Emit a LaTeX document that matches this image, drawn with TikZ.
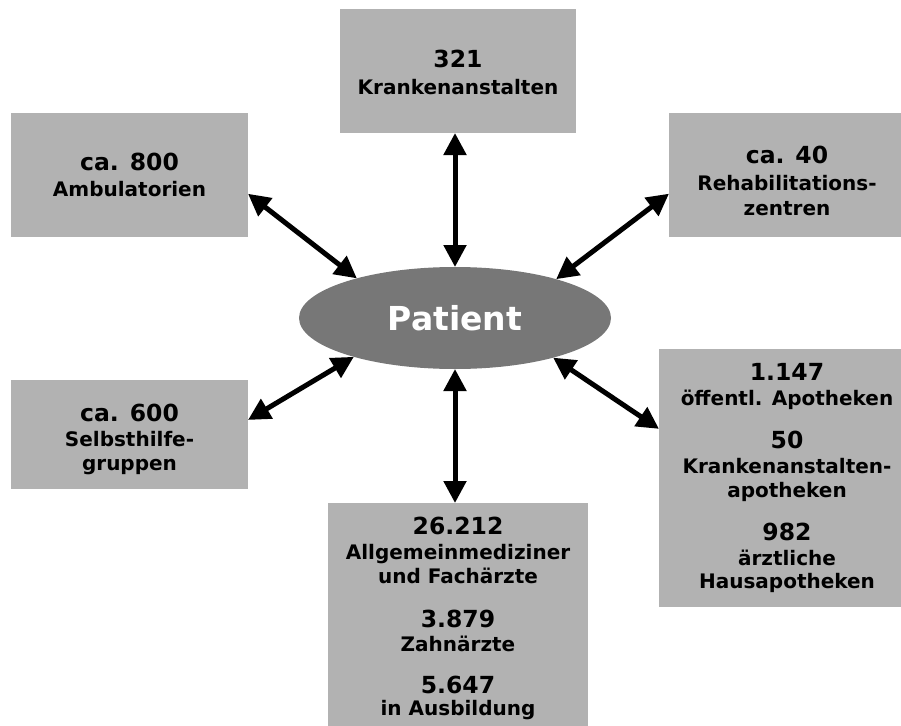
\documentclass[tikz,border=0pt]{standalone}
\usepackage{fontspec}
\setmainfont{DejaVu Sans}
\usetikzlibrary{arrows.meta,shapes.geometric}
\definecolor{boxgray}{RGB}{178,178,178}
\definecolor{patgray}{RGB}{119,119,119}
\begin{document}
\begin{tikzpicture}[x=1pt,y=-1pt,
  box/.style={rectangle, fill=boxgray, draw=none, inner sep=0pt, outer sep=0pt},
  num/.style={anchor=base, inner sep=0pt, outer sep=0pt, font=\bfseries\fontsize{23.5}{28}\selectfont},
  lbl/.style={anchor=base, inner sep=0pt, outer sep=0pt, font=\bfseries\fontsize{20}{24}\selectfont},
  link/.style={line width=5pt, {Triangle[length=22pt,width=22pt]}-{Triangle[length=22pt,width=22pt]}}]
\useasboundingbox (0,0) rectangle (901,725);
% boxes
\node[box, minimum width=236pt, minimum height=124pt] (top) at (458,71) {};
\node[box, minimum width=237pt, minimum height=124pt] (amb) at (129.5,175) {};
\node[box, minimum width=236pt, minimum height=124pt] (reh) at (787,175) {};
\node[box, minimum width=237pt, minimum height=109pt] (sel) at (129.5,434.5) {};
\node[box, minimum width=256pt, minimum height=258pt] (pha) at (787,478) {};
\node[box, minimum width=260pt, minimum height=230pt] (bot) at (458,618) {};
% patient
\node[ellipse, fill=patgray, minimum width=312pt, minimum height=102pt, inner sep=0pt, outer sep=0pt,
  text=white, font=\bfseries\fontsize{33}{40}\selectfont] (pat) at (455,318) {Patient};
% texts
\node[num] (t1) at (458,67) {321};
\node[lbl] (t2) at (458,94) {Krankenanstalten};
\node[num] (a1) at (129.5,170) {ca. 800};
\node[lbl] (a2) at (129.5,196.5) {Ambulatorien};
\node[num] (r1) at (787,163) {ca. 40};
\node[lbl] (r2) at (787,190) {Rehabilitations-};
\node[lbl] (r3) at (787,215) {zentren};
\node[num] (s1) at (129.5,421.5) {ca. 600};
\node[lbl] (s2) at (129.5,446.5) {Selbsthilfe-};
\node[lbl] (s3) at (129.5,470) {gruppen};
\node[num] (p1) at (787,380) {1.147};
\node[lbl] (p2) at (787,405) {öffentl. Apotheken};
\node[num] (p3) at (787,448) {50};
\node[lbl] (p4) at (787,473) {Krankenanstalten-};
\node[lbl] (p5) at (787,497) {apotheken};
\node[num] (p6) at (787,540) {982};
\node[lbl] (p7) at (787,565) {ärztliche};
\node[lbl] (p8) at (787,588) {Hausapotheken};
\node[num] (b1) at (458,534) {26.212};
\node[lbl] (b2) at (458,559) {Allgemeinmediziner};
\node[lbl] (b3) at (458,583) {und Fachärzte};
\node[num] (b4) at (458,627) {3.879};
\node[lbl] (b5) at (458,651) {Zahnärzte};
\node[num] (b6) at (458,693) {5.647};
\node[lbl] (b7) at (458,715) {in Ausbildung};
% connectors
\draw[link] (top.south -| pat.north) -- (pat.north);
\draw[link] (pat.south) -- (pat.south |- bot.north);
\draw[link] (amb.-9.6) -- (pat.158.9);
\draw[link] (reh.189.6) -- (pat.21.9);
\draw[link] (sel.7) -- (pat.201.3);
\draw[link] (pha.159.4) -- (pat.-22.2);
\end{tikzpicture}
\end{document}
